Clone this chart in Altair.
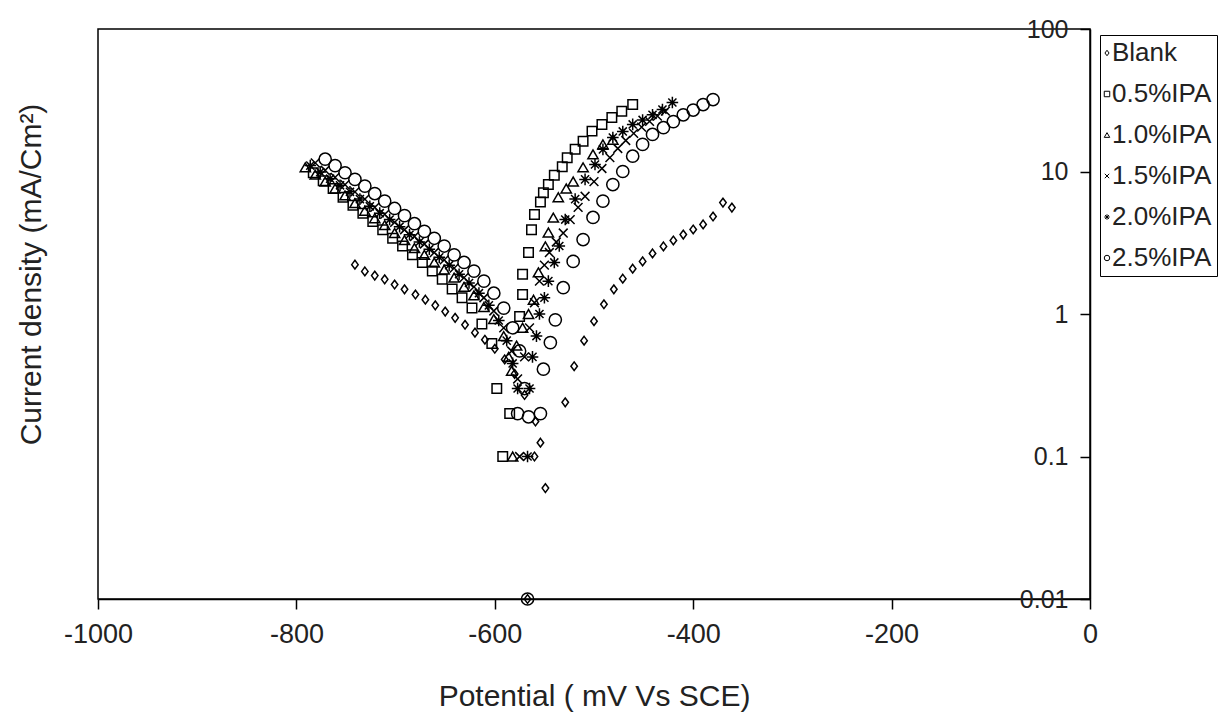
import altair as alt
import pandas as pd

series_names = ["Blank", "0.5%IPA", "1.0%IPA", "1.5%IPA", "2.0%IPA", "2.5%IPA"]

blank_e = [-741, -731, -721, -711, -701, -691, -680, -670, -660, -650, -640, -630, -620, -610, -600, -590, -580, -570, -559, -554, -560, -549, -567,
           -529, -520, -510, -500, -490, -480, -471, -461, -451, -441, -430, -420, -410, -400, -390, -380, -370, -361]
blank_i = [2.22, 1.99, 1.86, 1.75, 1.61, 1.49, 1.37, 1.26, 1.15, 1.04, 0.94, 0.84, 0.74, 0.66, 0.57, 0.48, 0.38, 0.27, 0.176, 0.125, 0.1, 0.06, 0.01,
           0.24, 0.43, 0.65, 0.89, 1.17, 1.49, 1.77, 2.08, 2.34, 2.66, 2.98, 3.28, 3.61, 3.92, 4.25, 4.83, 6.05, 5.58]

ipa05_e = [-783, -773, -763, -753, -743, -733, -723, -713, -703, -693, -683, -673, -663, -653, -643, -633, -623, -613, -603, -598, -592, -585,
           -575, -572, -572, -566, -563, -560, -554, -551, -546, -540, -532, -527, -519, -511, -502, -492, -482, -472, -461]
ipa05_i = [9.8, 8.6, 7.6, 6.6, 5.8, 5.1, 4.45, 3.9, 3.4, 3.0, 2.6, 2.3, 2.0, 1.75, 1.5, 1.3, 1.1, 0.85, 0.62, 0.3, 0.1, 0.2,
           0.96, 1.37, 1.9, 2.7, 3.9, 5.0, 6.1, 7.1, 8.1, 9.4, 10.8, 12.5, 14.3, 16.3, 19.2, 21.4, 23.9, 26.5, 29.5]

ipa10_e = [-791, -781, -771, -761, -751, -741, -731, -721, -711, -701, -691, -681, -671, -661, -651, -641, -631, -621, -611, -601, -591, -586, -583, -582,
           -578, -572, -566, -561, -556, -549, -546, -541, -536, -528, -521, -511, -501, -491, -481]
ipa10_i = [10.7, 9.5, 8.5, 7.6, 6.8, 6.0, 5.3, 4.7, 4.2, 3.7, 3.3, 2.9, 2.6, 2.3, 2.05, 1.8, 1.55, 1.35, 1.12, 0.92, 0.7, 0.5, 0.4, 0.1,
           0.6, 0.8, 1.0, 1.26, 1.96, 2.98, 3.73, 4.75, 6.6, 7.6, 8.5, 10.7, 13.2, 15.5, 16.7]

ipa15_e = [-781, -771, -761, -751, -741, -731, -721, -711, -701, -691, -681, -671, -661, -651, -641, -631, -621, -611, -601, -591, -583, -577, -575,
           -570, -565, -560, -555, -550, -545, -538, -531, -524, -516, -509, -500, -492, -484, -476, -468, -460, -452, -444, -436, -428]
ipa15_i = [11.5, 10.2, 9.1, 8.1, 7.2, 6.4, 5.6, 5.0, 4.4, 3.9, 3.5, 3.1, 2.7, 2.4, 2.1, 1.8, 1.55, 1.3, 1.05, 0.8, 0.55, 0.35, 0.1,
           0.5, 0.8, 1.2, 1.7, 2.2, 2.7, 3.2, 3.7, 4.6, 5.6, 6.7, 8.5, 10.5, 12.5, 14.5, 16.5, 18.5, 20.5, 22.5, 24.5, 26.5]

ipa20_e = [-786, -776, -766, -756, -746, -736, -726, -716, -706, -696, -686, -676, -666, -656, -646, -636, -626, -616, -606, -596, -588, -582, -577, -567,
           -565, -562, -558, -555, -550, -546, -540, -535, -529, -519, -509, -499, -491, -481, -471, -461, -451, -441, -431, -421]
ipa20_i = [11.0, 9.9, 8.9, 8.0, 7.2, 6.4, 5.7, 5.1, 4.6, 4.1, 3.6, 3.2, 2.85, 2.5, 2.2, 1.9, 1.65, 1.4, 1.15, 0.9, 0.65, 0.45, 0.3, 0.1,
           0.3, 0.5, 0.7, 1.0, 1.3, 1.7, 2.3, 3.0, 4.6, 6.4, 8.8, 11.2, 14.3, 17.3, 19.1, 21.4, 23.0, 25.0, 27.2, 30.5]

ipa25_e = [-771, -761, -751, -741, -731, -721, -711, -701, -691, -681, -671, -661, -651, -641, -631, -621, -611, -601, -591, -582, -577, -575, -570, -566, -567,
           -554, -551, -544, -539, -531, -521, -511, -501, -491, -481, -471, -461, -451, -441, -430, -420, -410, -400, -390, -380]
ipa25_i = [12.2, 11.0, 9.8, 8.8, 7.9, 7.0, 6.2, 5.5, 4.9, 4.3, 3.8, 3.4, 3.0, 2.6, 2.3, 2.0, 1.7, 1.4, 1.1, 0.8, 0.2, 0.55, 0.3, 0.19, 0.01,
           0.2, 0.41, 0.63, 0.91, 1.53, 2.34, 3.33, 4.76, 6.2, 8.1, 10.0, 12.8, 15.5, 18.2, 20.3, 22.4, 25.0, 27.0, 29.5, 32.0]

all_e = [blank_e, ipa05_e, ipa10_e, ipa15_e, ipa20_e, ipa25_e]
all_i = [blank_i, ipa05_i, ipa10_i, ipa15_i, ipa20_i, ipa25_i]

size_code = ["s1", "s2", "s3", "s4", "s5", "s6"]

rows = []
for name, code, es, cs in zip(series_names, size_code, all_e, all_i):
    for e, c in zip(es, cs):
        rows.append({"series": name, "sz": code, "E": e, "I": c})
df = pd.DataFrame(rows)

x_ticks = [-1000, -800, -600, -400, -200, 0]
y_ticks = [0.01, 0.1, 1, 10, 100]

shapes = [
    "M0,-1L0.75,0L0,1L-0.75,0Z",
    "square",
    "triangle-up",
    "M-0.8,-0.8L0.8,0.8M-0.8,0.8L0.8,-0.8",
    "M-1,0L1,0M0,-1L0,1M-0.7,-0.7L0.7,0.7M-0.7,0.7L0.7,-0.7",
    "circle",
]
sizes = [75, 150, 95, 65, 95, 105]

FONT = "Liberation Sans, Arial, sans-serif"
W, H = 992, 570
TXT = "#222222"

chart = alt.Chart(df).mark_point(filled=False, color="black", strokeWidth=1.5, opacity=1).encode(
    x=alt.X("E:Q", scale=alt.Scale(domain=[-1000, 0], nice=False),
            axis=alt.Axis(values=x_ticks, title="Potential ( mV Vs SCE)", grid=False,
                          labelExpr="'' + datum.value", labelFlush=False,
                          tickSize=10, tickColor="black", domainColor="black", domainWidth=1.5, tickWidth=1.5,
                          labelFont=FONT, labelFontSize=27, labelColor=TXT, labelPadding=12,
                          titleFont=FONT, titleFontSize=30, titleFontWeight="normal", titleColor=TXT,
                          titlePadding=34)),
    y=alt.Y("I:Q", scale=alt.Scale(type="log", domain=[0.01, 100], nice=False),
            axis=alt.Axis(orient="left", offset=-W, values=y_ticks, grid=False,
                          labelExpr="datum.value >= 1 ? format(datum.value, 'd') : (datum.value >= 0.1 ? '0.1' : '0.01')",
                          labelFlush=False,
                          title="Current density (mA/Cm²)",
                          titleX=-(W + 52), titleY=245,
                          tickSize=10, tickColor="black", domainColor="black", domainWidth=1.5, tickWidth=1.5,
                          labelFont=FONT, labelFontSize=25, labelColor=TXT, labelPadding=12,
                          titleFont=FONT, titleFontSize=30, titleFontWeight="normal", titleColor=TXT)),
    shape=alt.Shape("series:N", scale=alt.Scale(domain=series_names, range=shapes),
                    legend=alt.Legend(title=None, orient="none", legendX=1002, legendY=6,
                                      symbolSize=30, symbolStrokeColor="black",
                                      symbolStrokeWidth=1, labelFont=FONT, labelFontSize=26, labelColor=TXT,
                                      strokeColor="black", fillColor="white", padding=5, rowPadding=15,
                                      symbolOffset=-11, labelOffset={"expr": "-8"}, labelLimit=300)),
    size=alt.Size("sz:N", scale=alt.Scale(domain=size_code, range=sizes), legend=None),
).properties(
    width=W, height=H,
    background="white",
    autosize=alt.AutoSizeParams(type="none"),
    padding={"left": 98, "top": 29, "right": 140, "bottom": 129},
).configure_view(stroke="black", strokeWidth=1.5)

chart.save("out.html", embed_options={"renderer": "svg", "actions": False})
